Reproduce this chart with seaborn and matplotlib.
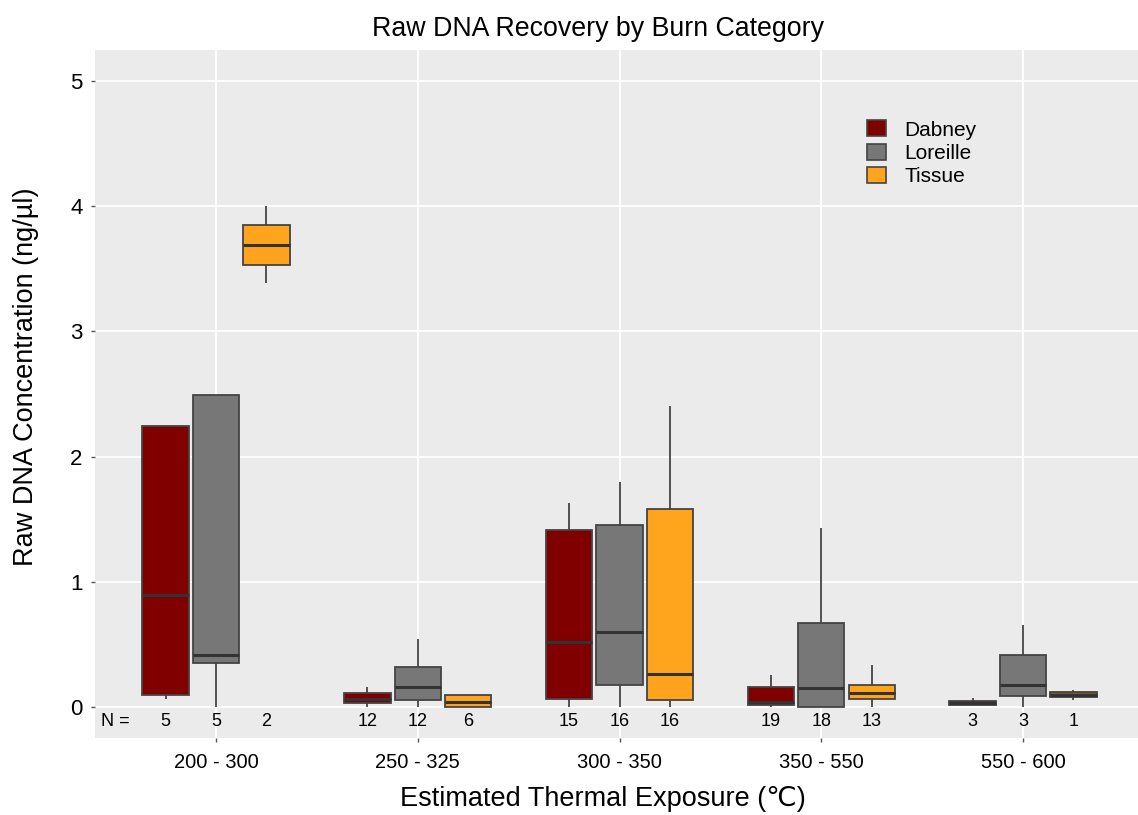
import numpy as np
import pandas as pd
import matplotlib
matplotlib.use("Agg")
import matplotlib.pyplot as plt
from matplotlib.patches import Patch
import seaborn as sns

# ---------------- data (five-number summaries) ----------------
categories = ["200 - 300", "250 - 325", "300 - 350", "350 - 550", "550 - 600"]
sources = ["Dabney", "Loreille", "Tissue"]

dabney_low  = [0.06, 0.00, 0.00, 0.00, 0.010]
dabney_q1   = [0.09, 0.03, 0.06, 0.015, 0.015]
dabney_med  = [0.89, 0.065, 0.52, 0.04, 0.030]
dabney_q3   = [2.24, 0.11, 1.41, 0.16, 0.045]
dabney_high = [2.24, 0.16, 1.63, 0.255, 0.070]

loreille_low  = [0.00, 0.00, 0.00, 0.00, 0.000]
loreille_q1   = [0.35, 0.05, 0.17, 0.00, 0.088]
loreille_med  = [0.41, 0.16, 0.60, 0.15, 0.175]
loreille_q3   = [2.49, 0.32, 1.45, 0.67, 0.415]
loreille_high = [2.49, 0.54, 1.80, 1.43, 0.655]

tissue_low  = [3.39, 0.00, 0.00, 0.00, 0.056]
tissue_q1   = [3.53, 0.00, 0.05, 0.06, 0.075]
tissue_med  = [3.69, 0.04, 0.26, 0.11, 0.096]
tissue_q3   = [3.85, 0.09, 1.58, 0.175, 0.117]
tissue_high = [4.00, 0.09, 2.40, 0.335, 0.135]

dabney_n   = [5, 12, 15, 19, 3]
loreille_n = [5, 12, 16, 18, 3]
tissue_n   = [2, 6, 16, 13, 1]

colors = {"Dabney": "#800000", "Loreille": "#777777", "Tissue": "#FFA41C"}
single_sample_color = "#7C5E2A"

summaries = {
    "Dabney": [dabney_low, dabney_q1, dabney_med, dabney_q3, dabney_high],
    "Loreille": [loreille_low, loreille_q1, loreille_med, loreille_q3, loreille_high],
    "Tissue": [tissue_low, tissue_q1, tissue_med, tissue_q3, tissue_high],
}
counts = {"Dabney": dabney_n, "Loreille": loreille_n, "Tissue": tissue_n}

rows = []
for s in sources:
    arrs = summaries[s]
    for i, c in enumerate(categories):
        for a in arrs:
            rows.append({"category": c, "source": s, "value": a[i]})
df = pd.DataFrame(rows)

# ---------------- style ----------------
sns.set_theme(style="darkgrid", rc={
    "axes.facecolor": "#EBEBEB",
    "grid.color": "white",
    "grid.linewidth": 1.3,
    "figure.facecolor": "white",
    "text.color": "black",
    "axes.labelcolor": "black",
    "xtick.color": "black",
    "ytick.color": "black",
})
plt.rcParams["font.family"] = ["Liberation Sans", "DejaVu Sans"]

fig = plt.figure(figsize=(11.38, 8.15), dpi=100)
ax = fig.add_axes([0.0835, 0.0945, 0.9165, 0.8442])

sns.boxplot(data=df, x="category", y="value", hue="source",
            order=categories, hue_order=sources, palette=colors,
            width=0.75, gap=0.08, whis=(0, 100), showfliers=False,
            showcaps=False,
            saturation=1, linecolor="#444444", linewidth=1.3,
            medianprops=dict(color="#333333", linewidth=2.2),
            ax=ax, legend=False)

# the single-sample Tissue box at 550-600 is drawn brownish in the reference
for p in ax.patches:
    ext = p.get_path().get_extents()
    if (ext.x0 + ext.x1) / 2 > 4.15:
        p.set_facecolor(single_sample_color)

ax.set_xlim(-0.6, 4.57)
ax.set_ylim(-0.25, 5.25)
ax.set_yticks([0, 1, 2, 3, 4, 5])
ax.grid(True, color="white", linewidth=1.3)
for sp in ax.spines.values():
    sp.set_visible(False)
ax.tick_params(axis="both", which="major", length=3, width=1, color="#555555",
               bottom=True, left=True)
ax.tick_params(axis="y", labelsize=16, pad=6, labelcolor="black")
ax.tick_params(axis="x", labelsize=14.5, pad=8, labelcolor="black")

# N row
offsets = [-0.25, 0.0, 0.25]
ax.text(-0.57, -0.115, "N =", fontsize=13, ha="left", va="center", color="black")
for j, s in enumerate(sources):
    for i in range(len(categories)):
        ax.text(i + offsets[j], -0.115, str(counts[s][i]), fontsize=13,
                ha="center", va="center", color="black")

ax.set_title("Raw DNA Recovery by Burn Category", fontsize=19.3, pad=10, x=0.482,
             color="black")
ax.set_xlabel("Estimated Thermal Exposure (\u2103)", fontsize=19.5, labelpad=10)
ax.xaxis.label.set_x(0.487)
ax.set_ylabel("Raw DNA Concentration (ng/\u00b5l)", fontsize=19.5, labelpad=22)
ax.yaxis.label.set_y(0.525)

handles = [Patch(facecolor=colors[s], edgecolor="#444444", linewidth=1.2) for s in sources]
leg = ax.legend(handles, sources, loc="upper left", bbox_to_anchor=(0.722, 0.925),
                frameon=False, fontsize=15, handlelength=0.9, handleheight=0.8,
                labelspacing=0.2, handletextpad=0.9)
for t in leg.get_texts():
    t.set_color("black")

fig.savefig("out.png", dpi=100)
